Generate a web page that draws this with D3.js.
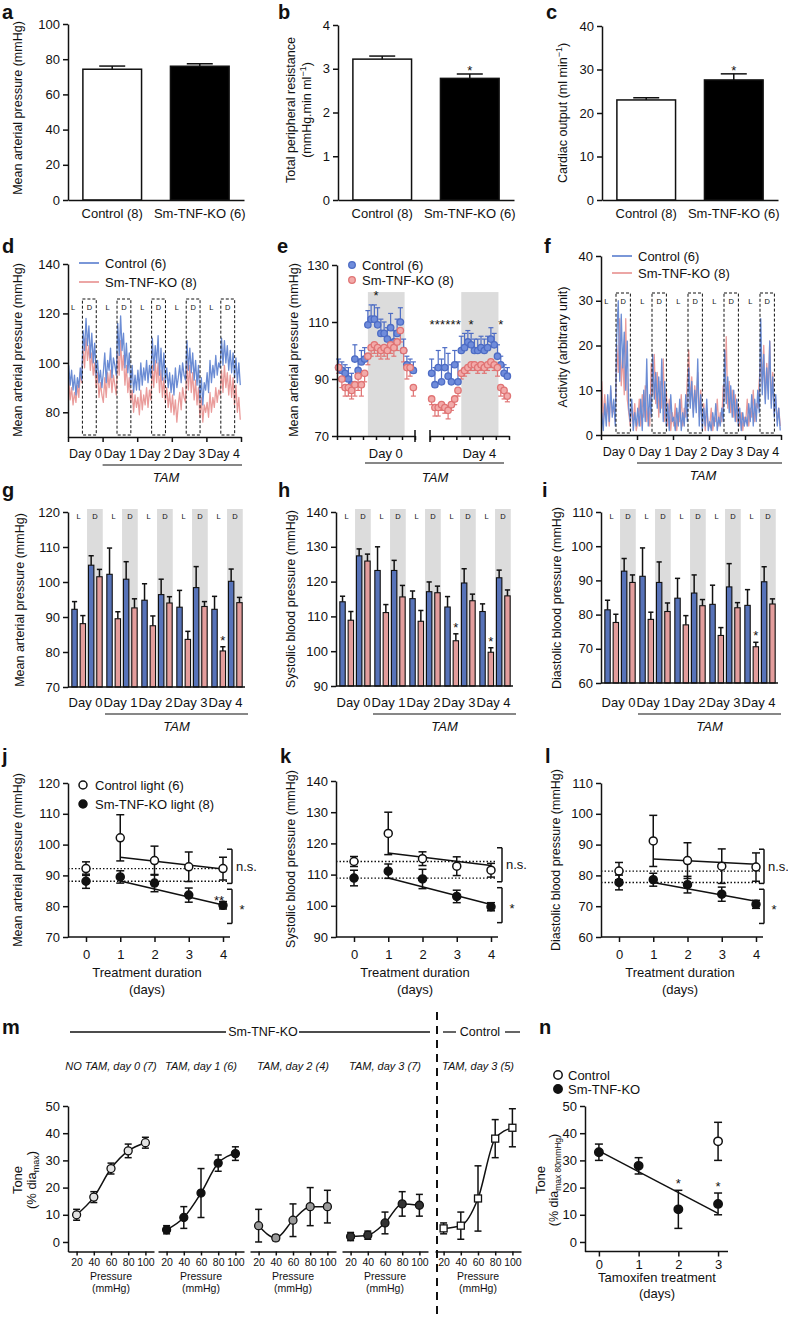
<!DOCTYPE html>
<html><head><meta charset="utf-8">
<script src="https://cdn.jsdelivr.net/npm/d3@7/dist/d3.min.js"></script>
<style>body{margin:0;background:#fff}svg{display:block}</style>
</head><body>
<svg id="chart" width="788" height="1319"></svg>
<script>
// ---------------- DATA ----------------
const groupLabels = ["Control (8)", "Sm-TNF-KO (6)"];
const mapMeans = [74.3, 76.0], mapErrs = [1.8, 1.4];
const tprMeans = [3.22, 2.78], tprErrs = [0.07, 0.10];
const coMeans = [23.0, 27.6], coErrs = [0.5, 1.4];

const dayLabels = ["Day 0", "Day 1", "Day 2", "Day 3", "Day 4"];
const darkPhase = [10, 19.6]; // hours of each day in the dark (D) phase

// panel d: hourly mean arterial pressure (mmHg), 5 days x 24 h
const dControl = [99,91,97,89,95,87,94,90,98,93,113,105,118,107,115,102,112,100,108,95,101,92,97,90,
 96,104,92,101,97,106,94,102,99,95,116,103,119,105,112,98,108,96,104,91,99,88,95,89,
 97,89,100,91,98,93,101,92,99,94,110,97,107,100,111,95,106,93,104,92,98,90,96,88,
 95,87,98,90,94,99,92,100,95,93,109,97,106,96,104,93,101,91,99,85,94,83,92,89,
 96,88,101,92,99,94,103,95,100,98,110,99,109,100,107,97,105,96,104,94,102,92,100,91];
const dKO = [93,85,90,83,88,84,91,86,96,92,106,98,110,101,107,97,104,95,100,90,96,86,92,87,
 84,94,86,96,90,97,88,95,91,87,104,95,109,97,103,91,99,88,94,84,89,80,87,82,
 86,79,89,81,87,83,90,82,89,85,99,90,101,92,100,88,97,86,94,84,90,82,88,80,
 87,79,85,76,83,88,81,90,86,84,101,89,99,88,96,85,93,83,90,78,86,76,83,80,
 84,78,88,80,86,82,90,84,89,87,97,88,99,90,96,87,95,86,94,83,91,80,86,77];

// panel f: activity (arbitrary unit)
const fControl = [5,1,7,2,9,3,11,4,8,2,22,30,12,27,15,23,10,21,6,3,8,1,5,2,
 6,2,8,1,10,3,17,2,9,4,18,8,14,6,13,5,17,3,12,2,7,1,9,3,
 4,1,6,2,8,1,5,2,9,3,15,6,12,4,10,5,17,2,9,1,6,2,8,1,
 3,1,5,2,7,1,4,2,6,3,19,7,13,5,11,4,10,3,8,2,6,1,5,2,
 4,2,7,3,9,2,8,3,10,5,26,9,18,7,15,8,21,6,13,4,9,2,6,1];
const fKO = [12,3,9,4,7,2,10,5,6,3,20,14,26,11,18,9,26,8,5,2,6,3,7,1,
 3,8,2,9,4,11,3,6,2,16,9,18,7,14,4,12,6,17,3,10,2,8,1,5,
 2,7,1,5,3,9,2,6,4,12,19,7,13,5,11,6,14,4,10,2,7,1,6,2,
 2,6,1,4,3,8,2,5,3,11,8,22,6,12,5,10,4,9,3,7,2,5,1,4,
 3,8,2,6,4,10,3,7,6,12,17,11,20,8,16,10,21,7,14,5,8,3,6,2];

// panel e: hourly MAP, day 0 and day 4
const eD0Ctrl = [94,93,92,90,88,97,93,96,97,109,111,111,109,106,106,104,108,103,106,110,100,95,94,93];
const eD0CtrlErr = [3,3,3,4,4,5,4,4,4,5,5,5,6,5,4,4,5,4,5,5,4,3,3,3];
const eD0KO = [94,90,87,87,86,88,91,88,92,98,101,102,101,100,101,100,102,101,103,107,100,94,94,87];
const eD0KOErr = [2,3,3,3,3,4,5,4,3,3,3,3,3,3,3,3,3,3,3,4,4,4,3,3];
const eD4Ctrl = [92,88,94,89,94,91,89,95,89,100,101,103,102,100,100,101,100,101,104,102,98,95,92,91];
const eD4CtrlErr = [5,6,6,8,7,8,6,5,7,5,5,4,4,4,4,4,4,4,4,4,4,3,3,3];
const eD4KO = [83,80,80,81,80,79,81,83,86,92,93,94,95,95,94,95,94,95,96,95,94,87,86,84];
const eD4KOErr = [2,3,3,2,2,3,2,2,2,2,2,2,2,2,2,2,2,2,2,2,3,3,3,2];
const eShade = [9.5, 20.8];
const eStarsD0 = [12];
const eStarsD4 = [0.6, 2.2, 3.8, 5.4, 7.0, 8.6, 12.5, 21.5];

// panels g-i: light (L) and dark (D) means per day
const gCtrlL = [92.2, 102.2, 94.8, 92.8, 92.2], gCtrlLErr = [2.2, 7.5, 4.7, 4.8, 3.7];
const gKOL = [88.1, 89.5, 87.5, 83.6, 80.3], gKOLErr = [2.3, 2.0, 2.8, 2.3, 1.2];
const gCtrlD = [104.8, 100.8, 96.4, 98.4, 100.2], gCtrlDErr = [2.7, 5.0, 4.4, 6.0, 3.5];
const gKOD = [101.5, 92.6, 94.0, 93.0, 94.1], gKODErr = [2.1, 2.6, 1.8, 1.4, 1.5];
const gStars = [4];
const hCtrlL = [114.2, 123.2, 115.1, 112.7, 111.4], hCtrlLErr = [1.6, 6.8, 2.2, 3.0, 2.2];
const hKOL = [108.9, 111.1, 108.6, 103.0, 99.7], hKOLErr = [2.5, 2.3, 3.1, 2.0, 1.3];
const hCtrlD = [127.4, 123.2, 117.1, 119.6, 121.1], hCtrlDErr = [2.0, 2.9, 2.8, 4.1, 2.2];
const hKOD = [125.9, 115.6, 116.8, 114.5, 115.9], hKODErr = [2.0, 3.3, 1.9, 1.9, 1.7];
const hStars = [3, 4];
const iCtrlL = [81.4, 91.2, 84.8, 83.0, 82.7], iCtrlLErr = [2.8, 8.3, 5.8, 5.6, 4.6];
const iKOL = [77.7, 78.6, 77.0, 73.9, 70.6], iKOLErr = [2.4, 2.1, 2.7, 2.3, 1.3];
const iCtrlD = [92.7, 89.4, 86.3, 88.1, 89.6], iCtrlDErr = [3.7, 6.0, 5.3, 6.8, 4.4];
const iKOD = [89.4, 80.9, 82.6, 82.0, 83.1], iKODErr = [2.2, 2.5, 1.8, 1.5, 1.5];
const iStars = [4];

// panels j-l: treatment duration (days), regression end points (day 1, day 4)
const tDays = [0, 1, 2, 3, 4];
const jFitCtrl = [95.9, 92.1], jFitKO = [88.2, 80.4];
const kFitCtrl = [116.9, 112.9], kFitKO = [108.9, 100.4];
const lFitCtrl = [85.3, 83.6], lFitKO = [77.7, 71.6];
const jBrackets = [[98.5, 87.4, "n.s."], [85.5, 74.4, "*"]];
const kBrackets = [[118.6, 107.7, "n.s."], [105.8, 94.6, "*"]];
const lBrackets = [[88.5, 77.4, "n.s."], [75.5, 64.4, "*"]];

// panel m: tone vs pressure
const mPressure = [20, 40, 60, 80, 100];
const mTitles = ["NO TAM, day 0 (7)", "TAM, day 1 (6)", "TAM, day 2 (4)", "TAM, day 3 (7)", "TAM, day 3 (5)"];
const mNoTam0 = [10, 16.5, 27, 33.5, 36.5], mNoTam0Err = [2, 2, 2, 2.5, 2];
const mTam1 = [4.5, 9, 18, 29, 32.5], mTam1Err = [1.5, 4, 9, 3, 2.5];
const mTam2 = [6, 1.5, 8, 13, 13], mTam2Err = [6, 1, 6, 7, 6];
const mTam3 = [2, 2.5, 7, 14, 13.5], mTam3Err = [1.5, 1.5, 4, 4.5, 4];
const mCtrl3 = [5, 6, 16, 38, 42], mCtrl3Err = [2, 5, 12, 7, 7];

// panel n: tone vs tamoxifen days
const nDays = [0, 1, 2, 3];
const nKO = [33, 28, 12, 14], nKOErr = [3, 3, 7, 4];
const nCtrl = [37], nCtrlErr = [7], nCtrlDays = [3];
const nFitKO = [33.5, 10.5];
const nStars = [2, 3];

// ---------------- DRAWING ----------------
const svg = d3.select("#chart");
const FONT = '"Liberation Sans", Arial, Helvetica, sans-serif';
const INK = "#111";
const BLUE_LINE = "#6b8cd4", PINK_LINE = "#ea9c9b";
const BLUE_BAR = "#5773b9", PINK_BAR = "#e39d9c";
const BLUE_PT = "#4d6cc4", BLUE_PT_FILL = "#6f8cdb";
const PINK_PT = "#e07474", PINK_PT_FILL = "#f2aaa9";
const SHADE = "#dcdcdc";
const fmt = d3.format("~g");

function T(x, y, s, o = {}) {
  const t = svg.append("text").attr("x", x).attr("y", y).text(s)
    .attr("font-family", FONT).attr("font-size", o.size || 13)
    .attr("text-anchor", o.anchor || "middle").attr("fill", o.fill || INK);
  if (o.weight) t.attr("font-weight", o.weight);
  if (o.italic) t.attr("font-style", "italic");
  if (o.rotate) t.attr("transform", `rotate(-90,${x},${y})`);
  return t;
}
function L(x1, y1, x2, y2, o = {}) {
  const l = svg.append("line").attr("x1", x1).attr("y1", y1).attr("x2", x2).attr("y2", y2)
    .attr("stroke", o.stroke || INK).attr("stroke-width", o.w || 1.5);
  if (o.dash) l.attr("stroke-dasharray", o.dash);
  return l;
}
function letter(x, y, s) { T(x, y, s, {size: 20, weight: "bold", anchor: "start"}); }
function styleAxis(g, size) {
  g.attr("font-family", FONT).attr("font-size", size || 13);
  g.select(".domain").attr("stroke", INK).attr("stroke-width", 1.5);
  g.selectAll(".tick line").attr("stroke", INK).attr("stroke-width", 1.5);
  g.selectAll(".tick text").attr("fill", INK);
  return g;
}
function yAxisAt(x, y, ticks, size) {
  const g = svg.append("g").attr("transform", `translate(${x},0)`)
    .call(d3.axisLeft(y).tickValues(ticks).tickFormat(fmt).tickSize(5).tickSizeOuter(0).tickPadding(3));
  return styleAxis(g, size);
}
function star(x, yBase, s) { T(x, yBase, s || "*", {size: 13}); }

// ---- a, b, c ----
function barPanel(x0, yTop, ticks, dmax, means, errs, starIdx) {
  const x = d3.scaleBand().domain(groupLabels).range([x0, x0 + 176]).paddingInner(0.33).paddingOuter(0.17);
  const y = d3.scaleLinear().domain([0, dmax]).range([200, yTop]);
  const fills = ["#fff", "#000"];
  svg.append("g").selectAll("rect").data(groupLabels).join("rect")
    .attr("x", d => x(d)).attr("width", x.bandwidth())
    .attr("y", (d, i) => y(means[i])).attr("height", (d, i) => y(0) - y(means[i]))
    .attr("fill", (d, i) => fills[i]).attr("stroke", INK).attr("stroke-width", 1.5);
  groupLabels.forEach((g, i) => {
    const cx = x(g) + x.bandwidth() / 2, top = y(means[i] + errs[i]);
    L(cx, y(means[i]), cx, top); L(cx - 13, top, cx + 13, top);
    if (starIdx.includes(i)) star(cx, top + 1);
  });
  yAxisAt(x0, y, ticks);
  const gx = svg.append("g").attr("transform", "translate(0,200)")
    .call(d3.axisBottom(x).tickSize(0).tickPadding(9).tickSizeOuter(0));
  styleAxis(gx);
}
letter(2, 19, "a");
barPanel(68, 24, [0, 20, 40, 60, 80, 100], 100, mapMeans, mapErrs, []);
T(22, 108, "Mean arterial pressure (mmHg)", {rotate: true, size: 12.5});
letter(278, 19, "b");
barPanel(338, 25, [0, 1, 2, 3, 4], 4, tprMeans, tprErrs, [1]);
T(295, 110, "Total peripheral resistance", {rotate: true, size: 12.5});
{
  const t = T(311, 110, "(mmHg.min ml", {rotate: true, size: 12.5});
  t.append("tspan").attr("dy", -5).attr("font-size", 9).text("−1");
  t.append("tspan").attr("dy", 5).text(")");
}
letter(546, 19, "c");
barPanel(602, 26, [0, 10, 20, 30, 40], 40, coMeans, coErrs, [1]);
{
  const t = T(567, 113, "Cardiac output (ml min", {rotate: true, size: 12.5});
  t.append("tspan").attr("dy", -5).attr("font-size", 9).text("−1");
  t.append("tspan").attr("dy", 5).text(")");
}

// ---- d, f : continuous traces ----
function tracePanel(o) {
  const x = d3.scaleLinear().domain([0, 120]).range([o.x0, o.x1]);
  const y = d3.scaleLinear().domain(o.domain).range([o.yBot, o.yTop]);
  const line = d3.line().x((v, i) => x(i + 0.5)).y(v => y(v));
  svg.append("path").attr("d", line(o.ko)).attr("fill", "none").attr("stroke", PINK_LINE).attr("stroke-width", 1.3).attr("stroke-linejoin", "round");
  svg.append("path").attr("d", line(o.ctrl)).attr("fill", "none").attr("stroke", BLUE_LINE).attr("stroke-width", 1.3).attr("stroke-linejoin", "round");
  dayLabels.forEach((d, i) => {
    const a = x(i * 24 + darkPhase[0]), b = x(i * 24 + darkPhase[1]);
    svg.append("rect").attr("x", a).attr("y", o.boxTop).attr("width", b - a).attr("height", o.yBot - 2 - o.boxTop)
      .attr("fill", "none").attr("stroke", INK).attr("stroke-width", 1).attr("stroke-dasharray", "3,2");
    T(x(i * 24 + 3.5), o.boxTop + 10.5, "L", {size: 7.5});
    T((a + b) / 2, o.boxTop + 10.5, "D", {size: 7.5});
    T(x(i * 24 + 12), o.yBot + 21, d, {size: 12.5});
  });
  yAxisAt(o.x0, y, o.ticks);
  const gx = svg.append("g").attr("transform", `translate(0,${o.yBot})`)
    .call(d3.axisBottom(x).tickValues([0, 24, 48, 72, 96, 120]).tickFormat("").tickSize(5).tickSizeOuter(0));
  styleAxis(gx);
  L(x(24), o.yBot + 28, x(120) + 1, o.yBot + 28, {w: 1.2});
  T(x(68), o.yBot + 45, "TAM", {italic: true});
  [[BLUE_LINE, "Control (6)"], [PINK_LINE, "Sm-TNF-KO (8)"]].forEach((e, i) => {
    const ly = o.legY + i * o.legDy;
    L(o.legX, ly, o.legX + 20, ly, {stroke: e[0], w: 1.8});
    T(o.legX + 26, ly + 4.5, e[1], {anchor: "start"});
  });
}
letter(2, 253, "d");
tracePanel({x0: 68, x1: 241, yTop: 264, yBot: 437, domain: [70, 140], ticks: [80, 100, 120, 140],
  ctrl: dControl, ko: dKO, boxTop: 299, legX: 79, legY: 263, legDy: 19});
T(22, 350, "Mean arterial pressure (mmHg)", {rotate: true, size: 12.5});
letter(544, 253, "f");
tracePanel({x0: 601, x1: 781, yTop: 256, yBot: 435, domain: [0, 40], ticks: [0, 10, 20, 30, 40],
  ctrl: fControl, ko: fKO, boxTop: 293, legX: 612, legY: 256, legDy: 17});
T(567, 347, "Activity (arbitrary unit)", {rotate: true, size: 12.5});

// ---- e ----
letter(277, 253, "e");
{
  const y = d3.scaleLinear().domain([70, 130]).range([436, 265]);
  const segs = [
    {x: d3.scaleLinear().domain([0, 24]).range([337, 415]), c: eD0Ctrl, ce: eD0CtrlErr, k: eD0KO, ke: eD0KOErr, stars: eStarsD0, sy: 300, lab: "Day 0"},
    {x: d3.scaleLinear().domain([0, 24]).range([430, 509]), c: eD4Ctrl, ce: eD4CtrlErr, k: eD4KO, ke: eD4KOErr, stars: eStarsD4, sy: 329, lab: "Day 4"}
  ];
  segs.forEach((s, si) => {
    svg.append("rect").attr("x", s.x(eShade[0])).attr("width", s.x(eShade[1]) - s.x(eShade[0]))
      .attr("y", y(120.5)).attr("height", y(70) - y(120.5)).attr("fill", SHADE);
    d3.range(24).forEach(h => {
      const cx = s.x(h + 0.5);
      const t1 = y(s.c[h] + s.ce[h]);
      L(cx, y(s.c[h]), cx, t1, {stroke: BLUE_PT, w: 1.2}); L(cx - 2.5, t1, cx + 2.5, t1, {stroke: BLUE_PT, w: 1.2});
      const t2 = y(s.k[h] - s.ke[h]);
      L(cx, y(s.k[h]), cx, t2, {stroke: PINK_PT, w: 1.2}); L(cx - 2.5, t2, cx + 2.5, t2, {stroke: PINK_PT, w: 1.2});
    });
    svg.append("g").selectAll("circle").data(s.c).join("circle")
      .attr("cx", (v, h) => s.x(h + 0.5)).attr("cy", v => y(v)).attr("r", 3.2)
      .attr("fill", BLUE_PT_FILL).attr("stroke", BLUE_PT).attr("stroke-width", 1.3);
    svg.append("g").selectAll("circle").data(s.k).join("circle")
      .attr("cx", (v, h) => s.x(h + 0.5)).attr("cy", v => y(v)).attr("r", 3.2)
      .attr("fill", PINK_PT_FILL).attr("stroke", PINK_PT).attr("stroke-width", 1.3);
    s.stars.forEach(h => star(s.x(h), s.sy));
    const gx = svg.append("g").attr("transform", "translate(0,436)")
      .call(d3.axisBottom(s.x).tickValues([0, 4, 8, 12, 16, 20, 24]).tickFormat("").tickSize(4).tickSizeOuter(0));
    styleAxis(gx);
    const endH = si === 0 ? 24 : 0;
    L(s.x(endH), 430, s.x(endH), 442);
    T(s.x(15), 457.5, s.lab);
  });
  yAxisAt(337, y, [70, 90, 110, 130]);
  L(365, 463, 504, 463, {w: 1.2});
  T(435, 481.5, "TAM", {italic: true});
  [[BLUE_PT, BLUE_PT_FILL, "Control (6)"], [PINK_PT, PINK_PT_FILL, "Sm-TNF-KO (8)"]].forEach((e, i) => {
    const ly = 265 + i * 15;
    svg.append("circle").attr("cx", 352).attr("cy", ly).attr("r", 3.3).attr("fill", e[1]).attr("stroke", e[0]).attr("stroke-width", 1.3);
    T(362, ly + 4.5, e[2], {anchor: "start"});
  });
  T(298, 350, "Mean arterial pressure (mmHg)", {rotate: true, size: 12.5});
}

// ---- g, h, i grouped bars ----
function groupedPanel(o) {
  const x = d3.scaleBand().domain(dayLabels).range([o.x0, o.x0 + 175]);
  const keys = ["cL", "kL", "cD", "kD"];
  const sub = d3.scaleBand().domain(keys).range([3, 35]).paddingInner(0.35).paddingOuter(0.1);
  const y = d3.scaleLinear().domain(o.domain).range([o.yBot, o.yTop]);
  const bw = sub.bandwidth();
  const series = {cL: [o.cL, o.cLe, BLUE_BAR], kL: [o.kL, o.kLe, PINK_BAR], cD: [o.cD, o.cDe, BLUE_BAR], kD: [o.kD, o.kDe, PINK_BAR]};
  dayLabels.forEach(d => {
    const a = x(d) + sub("cD") - 1.4, b = x(d) + sub("kD") + bw + 0.6;
    svg.append("rect").attr("x", a).attr("width", b - a).attr("y", 509).attr("height", o.yBot - 509).attr("fill", SHADE);
    T((x(d) + sub("cL") + x(d) + sub("kL") + bw) / 2, 519, "L", {size: 7.5});
    T((a + b) / 2, 519, "D", {size: 7.5});
  });
  keys.forEach(k => {
    const [m, e, col] = series[k];
    svg.append("g").selectAll("rect").data(dayLabels).join("rect")
      .attr("x", d => x(d) + sub(k)).attr("width", bw)
      .attr("y", (d, i) => y(m[i])).attr("height", (d, i) => o.yBot - y(m[i]))
      .attr("fill", col).attr("stroke", INK).attr("stroke-width", 1.1);
    dayLabels.forEach((d, i) => {
      const cx = x(d) + sub(k) + bw / 2, top = y(m[i] + e[i]);
      L(cx, y(m[i]), cx, top); L(cx - 2.6, top, cx + 2.6, top);
      if (k === "kL" && o.stars.includes(i)) star(cx, top - 2);
    });
  });
  yAxisAt(o.x0, y, o.ticks);
  L(o.x0, o.yBot, o.x0 + 177, o.yBot);
  dayLabels.forEach(d => T(x(d) + x.bandwidth() / 2, 706.5, d));
  const ls = x("Day 1") + 2, le = o.x0 + 180;
  L(ls, 714, le, 714, {w: 1.2});
  T((ls + le) / 2, 731, "TAM", {italic: true});
}
letter(2, 497, "g");
groupedPanel({x0: 68, domain: [70, 120], yBot: 687, yTop: 512, ticks: [70, 80, 90, 100, 110, 120],
  cL: gCtrlL, cLe: gCtrlLErr, kL: gKOL, kLe: gKOLErr, cD: gCtrlD, cDe: gCtrlDErr, kD: gKOD, kDe: gKODErr, stars: gStars});
T(24, 600, "Mean arterial pressure (mmHg)", {rotate: true, size: 12.5});
letter(278, 497, "h");
groupedPanel({x0: 336, domain: [90, 140], yBot: 686, yTop: 512, ticks: [90, 100, 110, 120, 130, 140],
  cL: hCtrlL, cLe: hCtrlLErr, kL: hKOL, kLe: hKOLErr, cD: hCtrlD, cDe: hCtrlDErr, kD: hKOD, kDe: hKODErr, stars: hStars});
T(295, 599, "Systolic blood pressure (mmHg)", {rotate: true, size: 12.5});
letter(542, 497, "i");
groupedPanel({x0: 601, domain: [60, 110], yBot: 683, yTop: 512, ticks: [60, 70, 80, 90, 100, 110],
  cL: iCtrlL, cLe: iCtrlLErr, kL: iKOL, kLe: iKOLErr, cD: iCtrlD, cDe: iCtrlDErr, kD: iKOD, kDe: iKODErr, stars: iStars});
T(561, 598, "Diastolic blood pressure (mmHg)", {rotate: true, size: 12.5});

// ---- j, k, l ----
function trendPanel(o) {
  const x = d3.scaleLinear().domain([0, 4]).range([o.x0 + 18, o.x0 + 155]);
  const y = d3.scaleLinear().domain(o.domain).range([o.yBot, o.yTop]);
  [o.c[0], o.k[0]].forEach(v => L(o.x0, y(v), x(4) + 4, y(v), {w: 1.3, dash: "1.5,2"}));
  [o.fc, o.fk].forEach(f => L(x(1), y(f[0]), x(4), y(f[1]), {w: 1.5}));
  [[o.c, o.ce, "#fff"], [o.k, o.ke, INK]].forEach(([m, e, fill]) => {
    tDays.forEach((d, i) => {
      const cx = x(d), t = y(m[i] + e[i]), b = y(m[i] - e[i]);
      L(cx, t, cx, b); L(cx - 4, t, cx + 4, t); L(cx - 4, b, cx + 4, b);
    });
    svg.append("g").selectAll("circle").data(m).join("circle")
      .attr("cx", (v, i) => x(tDays[i])).attr("cy", v => y(v)).attr("r", 4)
      .attr("fill", fill).attr("stroke", INK).attr("stroke-width", 1.5);
  });
  o.brackets.forEach(([a, b, s]) => {
    const ya = y(a), yb = y(b);
    L(o.bx, ya, o.bx, yb); L(o.bx - 5, ya, o.bx, ya); L(o.bx - 5, yb, o.bx, yb);
    if (s === "*") T(o.bx + 10, (ya + yb) / 2 + 7.5, s);
    else T(o.bx + 4, (ya + yb) / 2 + 4.5, s, {anchor: "start"});
  });
  yAxisAt(o.x0, y, o.ticks);
  L(o.x0, o.yBot, o.x0 + 162, o.yBot);
  const gx = svg.append("g").attr("transform", `translate(0,${o.yBot})`)
    .call(d3.axisBottom(x).tickValues(tDays).tickFormat(fmt).tickSize(5).tickPadding(8).tickSizeOuter(0));
  styleAxis(gx);
  gx.select(".domain").remove();
  T(o.x0 + 79, 977, "Treatment duration");
  T(o.x0 + 79, 994, "(days)");
  return {x, y};
}
letter(2, 763, "j");
{
  const p = trendPanel({x0: 68, domain: [70, 120], yBot: 937, yTop: 783, ticks: [70, 80, 90, 100, 110, 120],
    c: gCtrlL, ce: gCtrlLErr, k: gKOL, ke: gKOLErr, fc: jFitCtrl, fk: jFitKO, brackets: jBrackets, bx: 232});
  T(p.x(4) - 4, p.y(gKOL[4] + gKOLErr[4]) + 3, "**");
  svg.append("circle").attr("cx", 83).attr("cy", 785).attr("r", 4).attr("fill", "#fff").attr("stroke", INK).attr("stroke-width", 1.5);
  T(95, 789.5, "Control light (6)", {anchor: "start"});
  svg.append("circle").attr("cx", 83).attr("cy", 804).attr("r", 4).attr("fill", INK).attr("stroke", INK).attr("stroke-width", 1.5);
  T(95, 808.5, "Sm-TNF-KO light (8)", {anchor: "start"});
  T(22, 860, "Mean arterial pressure (mmHg)", {rotate: true, size: 12.5});
}
letter(280, 763, "k");
trendPanel({x0: 336, domain: [90, 140], yBot: 937, yTop: 781, ticks: [90, 100, 110, 120, 130, 140],
  c: hCtrlL, ce: hCtrlLErr, k: hKOL, ke: hKOLErr, fc: kFitCtrl, fk: kFitKO, brackets: kBrackets, bx: 502});
T(295, 859, "Systolic blood pressure (mmHg)", {rotate: true, size: 12.5});
letter(545, 763, "l");
trendPanel({x0: 601, domain: [60, 110], yBot: 937, yTop: 783, ticks: [60, 70, 80, 90, 100, 110],
  c: iCtrlL, ce: iCtrlLErr, k: iKOL, ke: iKOLErr, fc: lFitCtrl, fk: lFitKO, brackets: lBrackets, bx: 764});
T(560, 860, "Diastolic blood pressure (mmHg)", {rotate: true, size: 12.5});

// ---- m ----
letter(2, 1034, "m");
const mY = d3.scaleLinear().domain([-3.5, 50]).range([1251.5, 1106]);
{
  const x0s = [68, 158, 250, 342, 435];
  const sets = [[mNoTam0, mNoTam0Err, "#e4e4e4"], [mTam1, mTam1Err, "#111"], [mTam2, mTam2Err, "#9a9a9a"], [mTam3, mTam3Err, "#333"], [mCtrl3, mCtrl3Err, "#fff"]];
  sets.forEach(([m, e, fill], si) => {
    const x = d3.scaleLinear().domain([10, 110]).range([x0s[si], x0s[si] + 86]);
    const line = d3.line().x((v, i) => x(mPressure[i])).y(v => mY(v)).curve(d3.curveMonotoneX);
    svg.append("path").attr("d", line(m)).attr("fill", "none").attr("stroke", INK).attr("stroke-width", 1.5);
    mPressure.forEach((p, i) => {
      const cx = x(p), t = mY(m[i] + e[i]), b = mY(Math.max(m[i] - e[i], -3));
      L(cx, t, cx, b); L(cx - 3.5, t, cx + 3.5, t); L(cx - 3.5, b, cx + 3.5, b);
    });
    if (si < 4) {
      svg.append("g").selectAll("circle").data(m).join("circle")
        .attr("cx", (v, i) => x(mPressure[i])).attr("cy", v => mY(v)).attr("r", 4)
        .attr("fill", fill).attr("stroke", INK).attr("stroke-width", 1.3);
    } else {
      svg.append("g").selectAll("rect").data(m).join("rect")
        .attr("x", (v, i) => x(mPressure[i]) - 3.5).attr("y", v => mY(v) - 3.5).attr("width", 7).attr("height", 7)
        .attr("fill", fill).attr("stroke", INK).attr("stroke-width", 1.3);
    }
    const gx = svg.append("g").attr("transform", "translate(0,1251.5)")
      .call(d3.axisBottom(x).tickValues(mPressure).tickFormat(fmt).tickSize(4).tickPadding(3).tickSizeOuter(0));
    styleAxis(gx, 10.5);
    T(x(60), 1280, "Pressure", {size: 10.5});
    T(x(60), 1292, "(mmHg)", {size: 10.5});
    T(x(60), 1070, mTitles[si], {size: 11, italic: true});
  });
  yAxisAt(68, mY, [0, 10, 20, 30, 40, 50]);
  T(22, 1180, "Tone", {rotate: true});
  {
    const t = T(36, 1180, "(% dia", {rotate: true});
    t.append("tspan").attr("dy", 3).attr("font-size", 9).text("max");
    t.append("tspan").attr("dy", -3).text(")");
  }
  T(263, 1036, "Sm-TNF-KO", {size: 12.5});
  L(70, 1032, 226, 1032, {w: 1.3}); L(299, 1032, 430, 1032, {w: 1.3});
  T(480, 1036, "Control", {size: 12.5});
  L(443, 1032, 456, 1032, {w: 1.3}); L(505, 1032, 520, 1032, {w: 1.3});
  L(437, 1012, 437, 1319, {w: 2, dash: "8,6"});
}

// ---- n ----
letter(539, 1034, "n");
{
  const x = d3.scaleLinear().domain([-0.35, 3.25]).range([585, 728]);
  L(x(0), mY(nFitKO[0]), x(3), mY(nFitKO[1]), {w: 1.5});
  const drawPts = (days, m, e, fill) => {
    days.forEach((d, i) => {
      const cx = x(d), t = mY(m[i] + e[i]), b = mY(m[i] - e[i]);
      L(cx, t, cx, b); L(cx - 4, t, cx + 4, t); L(cx - 4, b, cx + 4, b);
    });
    svg.append("g").selectAll("circle").data(m).join("circle")
      .attr("cx", (v, i) => x(days[i])).attr("cy", v => mY(v)).attr("r", 4.2)
      .attr("fill", fill).attr("stroke", INK).attr("stroke-width", 1.5);
  };
  drawPts(nDays, nKO, nKOErr, INK);
  drawPts(nCtrlDays, nCtrl, nCtrlErr, "#fff");
  nStars.forEach(d => { const i = nDays.indexOf(d); star(x(d), mY(nKO[i] + nKOErr[i]) - 2); });
  yAxisAt(585, mY, [0, 10, 20, 30, 40, 50]);
  L(585, 1251.5, 728, 1251.5);
  const gx = svg.append("g").attr("transform", "translate(0,1251.5)")
    .call(d3.axisBottom(x).tickValues(nDays).tickFormat(fmt).tickSize(5).tickPadding(3).tickSizeOuter(0));
  styleAxis(gx);
  gx.select(".domain").remove();
  T(657, 1282, "Tamoxifen treatment");
  T(657, 1298, "(days)");
  svg.append("circle").attr("cx", 558).attr("cy", 1075).attr("r", 4.2).attr("fill", "#fff").attr("stroke", INK).attr("stroke-width", 1.5);
  T(568, 1079.5, "Control", {anchor: "start"});
  svg.append("circle").attr("cx", 558).attr("cy", 1089).attr("r", 4.2).attr("fill", INK).attr("stroke", INK).attr("stroke-width", 1.5);
  T(568, 1093.5, "Sm-TNF-KO", {anchor: "start"});
  T(545, 1180, "Tone", {rotate: true});
  {
    const t = T(558, 1180, "(% dia", {rotate: true, size: 12.5});
    t.append("tspan").attr("dy", 3).attr("font-size", 8.5).text("max 80mmHg");
    t.append("tspan").attr("dy", -3).text(")");
  }
}
</script>
</body></html>
